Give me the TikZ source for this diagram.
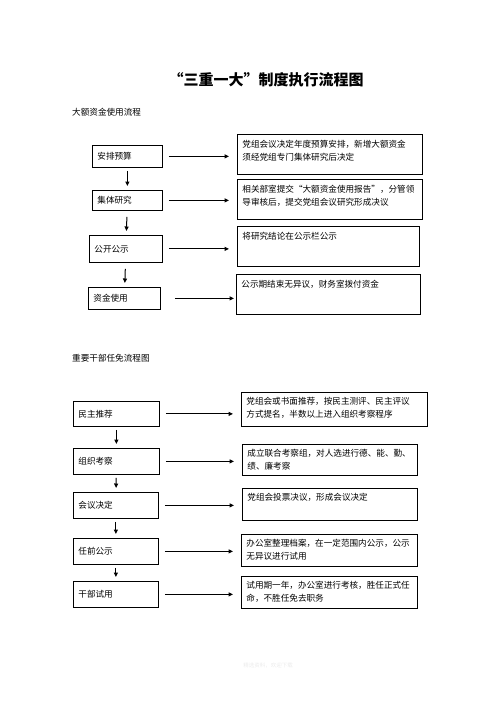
\documentclass[tikz,border=0pt]{standalone}
\usepackage{fontspec}
\newfontfamily\cjk{Noto Sans CJK SC}
\usetikzlibrary{arrows.meta}

\tikzset{
    txt/.style={font=\cjk\fontsize{8.6}{12.5}\selectfont},
    stepbox/.style={txt, draw, line width=0.8pt, anchor=north west, inner xsep=5pt, inner ysep=0pt, align=left},
    notebox/.style={txt, draw, line width=0.8pt, anchor=north west, inner xsep=5pt, inner ysep=6pt},
    harr/.style={-{Triangle[length=4.5pt,width=4pt]}, line width=1pt, shorten <=6pt, shorten >=8pt},
    varr/.style={-{Triangle[length=4.5pt,width=4pt]}, line width=1pt, shorten <=3pt, shorten >=4pt}
}

\begin{document}
\begin{tikzpicture}[x=1pt,y=-1pt]
    \useasboundingbox (0,0) rectangle (496,702);
    \node[font=\cjk\bfseries\fontsize{15}{18}\selectfont] (title) at (266,80) {“三重一大”制度执行流程图};
    \node[txt, anchor=west, inner sep=0] (sec1) at (72,112) {大额资金使用流程};
    \node[txt, anchor=west, inner sep=0] (sec2) at (72,358) {重要干部任免流程图};

    \node[stepbox, text width=60pt, minimum height=22pt] (ap) at (92,145) {安排预算};
    \node[stepbox, text width=60pt, minimum height=20pt] (jt) at (92,190) {集体研究};
    \node[stepbox, text width=63pt, minimum height=27pt] (gk) at (89,235) {公开公示};
    \node[stepbox, text width=62pt, minimum height=22pt] (zj) at (88,287) {资金使用};

    \node[notebox] (n1) at (237,134) {\parbox[t][28pt][t]{175pt}{党组会议决定年度预算安排，新增大额资金\\须经党组专门集体研究后决定}};
    \node[notebox] (n2) at (237,179) {\parbox[t][28pt][t]{175pt}{相关部室提交“大额资金使用报告”，分管领\\导审核后，提交党组会议研究形成决议}};
    \node[notebox] (n3) at (237,226) {\parbox[t][28pt][t]{172pt}{将研究结论在公示栏公示}};
    \node[notebox] (n4) at (236,274) {\parbox[t][28pt][t]{174pt}{公示期结束无异议，财务室拨付资金}};

    \draw[varr] (ap) -- (jt);
    \draw[varr, shorten <=6pt] (jt) -- (gk);
    \draw[varr, shorten <=6pt] (gk) -- (zj);
    \draw[harr] (ap.east) -- (ap.east -| n1.west);
    \draw[harr] (jt.east) -- (jt.east -| n2.west);
    \draw[harr] (gk.east) -- (gk.east -| n3.west);
    \draw[harr, shorten <=14pt, shorten >=2pt] (zj.east) -- (zj.east -| n4.west);

    \node[stepbox, text width=76pt, minimum height=25pt] (mz) at (73,401) {民主推荐};
    \node[stepbox, text width=76pt, minimum height=26pt] (zz) at (73,448) {组织考察};
    \node[stepbox, text width=75pt, minimum height=26pt] (hy) at (73,492) {会议决定};
    \node[stepbox, text width=75pt, minimum height=26pt] (rq) at (73,538) {任前公示};
    \node[stepbox, text width=75pt, minimum height=26pt] (gb) at (73,581) {干部试用};

    \node[notebox, inner ysep=5pt] (m1) at (241,392) {\parbox[t][24pt][t]{176pt}{党组会或书面推荐，按民主测评、民主评议\\方式提名，半数以上进入组织考察程序}};
    \node[notebox, inner ysep=5pt] (m2) at (242,444) {\parbox[t][21pt][t]{165pt}{成立联合考察组，对人选进行德、能、勤、\\绩、廉考察}};
    \node[notebox, inner ysep=5pt] (m3) at (242,488) {\parbox[t][22pt][t]{165pt}{党组会投票决议，形成会议决定}};
    \node[notebox, inner ysep=5pt] (m4) at (241,534) {\parbox[t][22pt][t]{166pt}{办公室整理档案，在一定范围内公示，公示\\无异议进行试用}};
    \node[notebox, inner ysep=5pt] (m5) at (241,576) {\parbox[t][22pt][t]{166pt}{试用期一年，办公室进行考核，胜任正式任\\命，不胜任免去职务}};

    \draw[varr] (mz) -- (zz);
    \draw[varr] (zz) -- (hy);
    \draw[varr] (hy) -- (rq);
    \draw[varr] (rq) -- (gb);
    \draw[harr] (mz.east) -- (mz.east -| m1.west);
    \draw[harr] (zz.east) -- (zz.east -| m2.west);
    \draw[harr] (hy.east) -- (hy.east -| m3.west);
    \draw[harr] (rq.east) -- (rq.east -| m4.west);
    \draw[harr] (gb.east) -- (gb.east -| m5.west);

    \node[text=black!8, font=\cjk\fontsize{5.5}{6}\selectfont] (foot) at (268,665) {精选资料，欢迎下载};
\end{tikzpicture}
\end{document}
